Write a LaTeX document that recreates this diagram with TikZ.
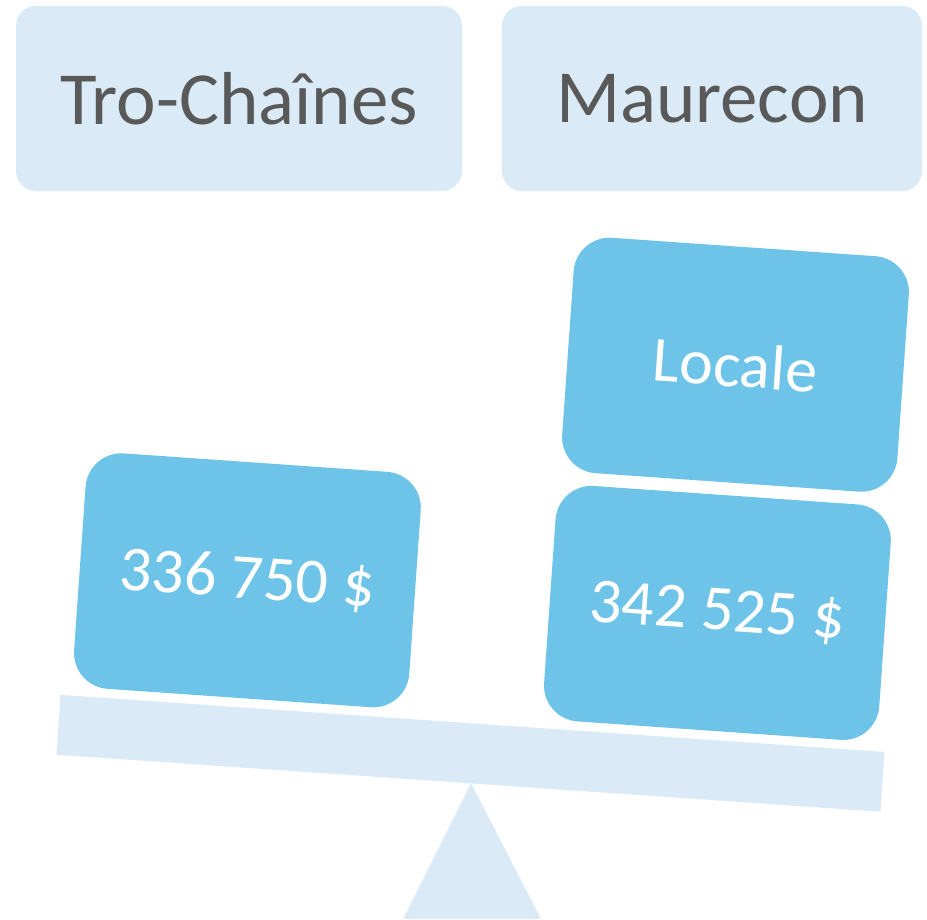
\documentclass[tikz,border=0pt]{standalone}
\usepackage{fontspec}
\setmainfont{Carlito}
\definecolor{paleblue}{HTML}{DAEBF7}
\definecolor{boxblue}{HTML}{6EC3E8}
\definecolor{labelgray}{HTML}{595959}
\begin{document}
\begin{tikzpicture}[x=1pt,y=-1pt,
    toplabel/.style={fill=paleblue,rounded corners=20pt,minimum height=185pt,
        inner sep=0pt,text=labelgray,font=\fontsize{75}{90}\selectfont},
    weightbox/.style={fill=boxblue,rounded corners=36pt,rotate=-4,
        minimum width=336pt,minimum height=236pt,inner sep=0pt,
        text=white,font=\fontsize{64}{76}\selectfont},
    plank/.style={fill=paleblue,rotate=-3.96,minimum width=826pt,
        minimum height=60pt,inner sep=0pt}]
    \useasboundingbox (0,0) rectangle (927,919);

    \node[toplabel,minimum width=446pt] (tro) at (239,98.5) {Tro-Chaînes};
    \node[toplabel,minimum width=420pt] (maurecon) at (712,98.5) {Maurecon};

    \fill[paleblue] (471,783) -- (541,919) -- (403,919) -- cycle;
    \node[plank] (beam) at (470.5,753.3) {};

    \node[weightbox] (tromontant) at (247.4,580.3) {336 750 \$};
    \node[weightbox] (mauremontant) at (717.4,612.9) {342 525 \$};
    \node[weightbox] (locale) at (735.5,364.7) {Locale};
\end{tikzpicture}
\end{document}
